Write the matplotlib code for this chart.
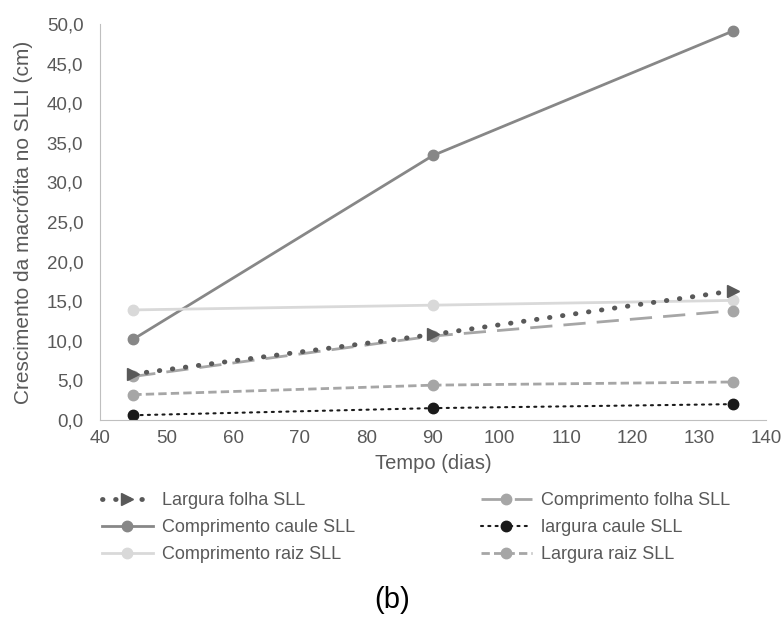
import matplotlib
matplotlib.use("Agg")
import matplotlib.pyplot as plt
from matplotlib.ticker import FuncFormatter, MultipleLocator

plt.rcParams['font.family'] = ['Liberation Sans', 'DejaVu Sans']

dias = [45, 90, 135]
largura_folha = [5.8, 10.8, 16.3]
comprimento_folha = [5.5, 10.6, 13.8]
comprimento_caule = [10.2, 33.4, 49.1]
largura_caule = [0.6, 1.5, 2.0]
comprimento_raiz = [13.9, 14.5, 15.1]
largura_raiz = [3.2, 4.4, 4.8]

fig = plt.figure(figsize=(7.84, 6.25), dpi=100)
ax = fig.add_axes([100/784, 205/625, 666/784, 396/625])

h_cc, = ax.plot(dias, comprimento_caule, color='#878787', lw=2, marker='o', ms=7.5,
                label='Comprimento caule SLL')
h_cr, = ax.plot(dias, comprimento_raiz, color='#d9d9d9', lw=2, marker='o', ms=7.5,
                label='Comprimento raiz SLL')
h_cf, = ax.plot(dias, comprimento_folha, color='#a6a6a6', lw=2, ls=(0, (8, 4)), marker='o', ms=7.5,
                label='Comprimento folha SLL')
h_lr, = ax.plot(dias, largura_raiz, color='#a6a6a6', lw=2, ls=(0, (3, 1.5)), marker='o', ms=7.5,
                label='Largura raiz SLL')
h_lc, = ax.plot(dias, largura_caule, color='#1a1a1a', lw=1.5, ls=(0, (1, 2.5)), marker='o', ms=7.5,
                dash_capstyle='round', label='largura caule SLL')
h_lf, = ax.plot(dias, largura_folha, color='#595959', lw=3.5, ls=(0, (0.1, 2.6)), marker='>', ms=8.5,
                dash_capstyle='round', label='Largura folha SLL')

ax.set_xlim(40, 140)
ax.set_ylim(0, 50)
ax.xaxis.set_major_locator(MultipleLocator(10))
ax.yaxis.set_major_locator(MultipleLocator(5))
ax.yaxis.set_major_formatter(FuncFormatter(lambda v, p: f"{v:.1f}".replace('.', ',')))
for s in ['top', 'right']:
    ax.spines[s].set_visible(False)
for s in ['left', 'bottom']:
    ax.spines[s].set_color('#bfbfbf')
ax.tick_params(axis='both', length=0, labelsize=13.5, colors='#595959')
ax.tick_params(axis='x', pad=7)
ax.tick_params(axis='y', pad=12)
ax.set_xlabel('Tempo (dias)', fontsize=14.5, color='#595959', labelpad=5)
ax.set_ylabel('Crescimento da macrófita no SLLI (cm)', fontsize=15, color='#595959', labelpad=10)

handles = [h_lf, h_cc, h_cr, h_cf, h_lc, h_lr]
fig.legend(handles=handles, labels=[h.get_label() for h in handles], ncol=2,
           loc='upper left', bbox_to_anchor=(102/784, 1 - 492/625), frameon=False,
           borderpad=0, borderaxespad=0,
           fontsize=13, labelcolor='#595959', handlelength=2.8, handletextpad=0.5,
           columnspacing=7.0, labelspacing=0.56)

fig.text(392/784, 1 - 600/625, '(b)', ha='center', va='center', fontsize=21, color='#000000')

fig.savefig('out.png', dpi=100)
